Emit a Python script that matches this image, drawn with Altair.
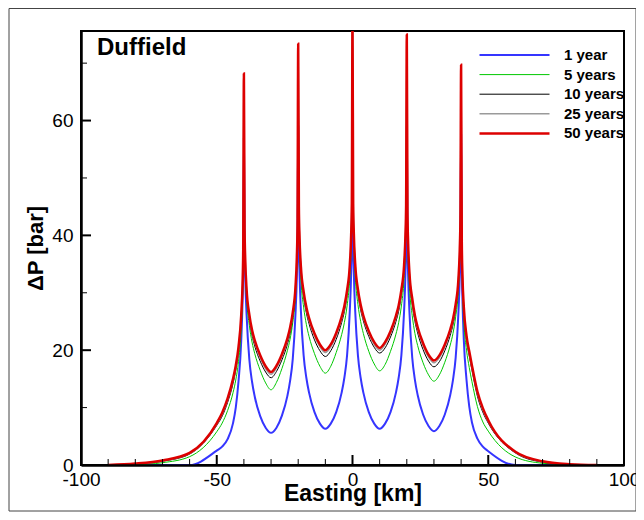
import altair as alt
import pandas as pd

# ---------------- data ----------------
SERIES = ["1 year", "5 years", "10 years", "25 years", "50 years"]
COLORS = ["#3535ff", "#00c800", "#000000", "#9a9a9a", "#dd0000"]
WIDTHS = [2.0, 1.0, 1.0, 1.5, 2.5]

EASTING = [-90, -80, -70, -60,
           -50, -48, -46, -44, -43, -42, -41, -40.5, -40.25,
           -40,
           -39.75, -39.5, -39, -38, -37, -36, -34, -32, -30, -28, -26, -24, -23, -22, -21, -20.5, -20.25,
           -20,
           -19.75, -19.5, -19, -18, -17, -16, -14, -12, -10, -8, -6, -4, -3, -2, -1, -0.5, -0.25,
           0,
           0.25, 0.5, 1, 2, 3, 4, 6, 8, 10, 12, 14, 16, 17, 18, 19, 19.5, 19.75,
           20,
           20.25, 20.5, 21, 22, 23, 24, 26, 28, 30, 32, 34, 36, 37, 38, 39, 39.5, 39.75,
           40,
           40.25, 40.5, 41, 42, 43, 44, 46, 48, 50,
           60, 70, 80, 90]

DP_1Y = [0.0, 0.0, 0.0, 0.0,
         2.5, 3.2, 4.5, 7.3, 10.0, 14.5, 21.5, 28.5, 34.5,
         57.0,
         38.6, 32.6, 26.1, 18.4, 14.5, 11.9, 8.5, 6.5, 5.6, 6.5, 8.6, 12.0, 14.6, 18.5, 26.3, 32.8, 38.9,
         59.0,
         39.3, 33.3, 26.8, 19.1, 15.2, 12.6, 9.2, 7.2, 6.3, 7.2, 9.2, 12.6, 15.2, 19.1, 26.8, 33.3, 39.3,
         60.0,
         39.3, 33.3, 26.8, 19.1, 15.2, 12.6, 9.2, 7.2, 6.3, 7.2, 9.2, 12.6, 15.2, 19.1, 26.8, 33.3, 39.3,
         59.0,
         38.9, 32.9, 26.4, 18.7, 14.8, 12.2, 8.8, 6.8, 5.9, 6.8, 8.8, 12.2, 14.8, 18.7, 26.4, 32.9, 38.9,
         57.5,
         34.8, 28.8, 21.8, 14.8, 10.2, 7.4, 4.6, 3.2, 2.4,
         0.0, 0.0, 0.0, 0.0]

DP_5Y = [0.0, 0.05, 0.4, 1.45,
         5.8, 7.3, 9.5, 12.6, 14.8, 18.0, 23.6, 29.3, 35.3,
         64.0,
         39.6, 34.1, 28.9, 24.3, 21.4, 19.4, 16.5, 14.3, 13.1, 14.4, 16.8, 19.9, 21.9, 24.8, 29.6, 34.8, 40.3,
         69.5,
         42.8, 37.4, 32.2, 27.5, 24.5, 22.4, 19.4, 17.2, 16.0, 17.2, 19.6, 22.7, 24.8, 27.7, 32.6, 37.9, 43.6,
         73.0,
         43.4, 38.0, 32.8, 28.0, 25.0, 22.9, 19.8, 17.6, 16.4, 17.5, 19.8, 22.8, 24.8, 27.7, 32.5, 37.8, 43.3,
         71.0,
         41.6, 36.0, 30.8, 26.0, 22.9, 20.8, 17.8, 15.7, 14.6, 15.7, 17.9, 20.9, 22.9, 25.8, 30.4, 35.6, 41.1,
         65.5,
         36.5, 30.5, 25.0, 20.0, 17.0, 14.5, 10.2, 7.5, 5.9,
         1.4, 0.3, 0.05, 0.0]

DP_10Y = [0.0, 0.15, 0.65, 1.9,
          6.9, 8.5, 10.9, 14.2, 16.5, 19.7, 25.2, 30.8, 36.8,
          66.5,
          40.5, 35.0, 29.8, 25.4, 22.6, 20.7, 18.1, 16.2, 15.2, 16.3, 18.3, 21.0, 22.9, 25.7, 30.3, 35.5, 41.1,
          71.8,
          44.3, 38.9, 33.8, 29.3, 26.5, 24.6, 21.8, 19.9, 18.9, 19.9, 21.9, 24.8, 26.7, 29.5, 34.0, 39.3, 44.8,
          75.5,
          44.9, 39.5, 34.3, 29.8, 27.0, 25.1, 22.4, 20.5, 19.5, 20.4, 22.3, 25.0, 26.8, 29.6, 34.0, 39.2, 44.6,
          73.2,
          43.3, 37.8, 32.5, 28.0, 25.0, 23.0, 20.1, 18.1, 17.1, 18.0, 19.9, 22.6, 24.4, 27.1, 31.5, 36.8, 42.3,
          68.0,
          38.3, 32.3, 26.7, 21.7, 19.0, 16.5, 12.0, 9.2, 7.3,
          2.1, 0.5, 0.1, 0.0]

DP_25Y = [0.0, 0.2, 0.75, 2.0,
          7.1, 8.8, 11.3, 14.7, 17.0, 20.2, 25.7, 31.2, 37.2,
          67.5,
          40.9, 35.4, 30.2, 25.9, 23.1, 21.3, 18.7, 16.8, 15.8, 16.9, 18.9, 21.6, 23.5, 26.2, 30.7, 35.9, 41.5,
          72.8,
          44.7, 39.3, 34.2, 29.8, 27.1, 25.2, 22.5, 20.6, 19.6, 20.6, 22.6, 25.4, 27.3, 30.0, 34.5, 39.7, 45.2,
          76.5,
          45.3, 39.9, 34.7, 30.2, 27.5, 25.6, 22.9, 21.0, 20.0, 21.0, 22.9, 25.6, 27.4, 30.1, 34.5, 39.7, 45.0,
          74.3,
          43.7, 38.2, 33.0, 28.6, 25.6, 23.6, 20.8, 18.8, 17.8, 18.7, 20.6, 23.2, 25.0, 27.6, 32.0, 37.2, 42.7,
          69.0,
          38.7, 32.7, 27.2, 22.2, 19.5, 17.0, 12.5, 9.6, 7.6,
          2.2, 0.6, 0.12, 0.0]

DP_50Y = [0.0, 0.25, 0.8, 2.1,
          7.3, 9.1, 11.6, 15.0, 17.3, 20.5, 26.0, 31.5, 37.5,
          68.2,
          41.2, 35.7, 30.5, 26.2, 23.5, 21.7, 19.1, 17.2, 16.2, 17.3, 19.3, 22.0, 23.9, 26.6, 31.0, 36.2, 41.8,
          73.4,
          45.0, 39.6, 34.5, 30.2, 27.5, 25.6, 22.9, 21.0, 20.0, 21.0, 23.0, 25.8, 27.7, 30.4, 34.8, 40.0, 45.5,
          77.5,
          45.6, 40.2, 35.0, 30.6, 27.9, 26.0, 23.3, 21.4, 20.4, 21.4, 23.3, 26.0, 27.8, 30.5, 34.8, 40.0, 45.3,
          75.0,
          44.0, 38.5, 33.3, 29.0, 26.0, 24.0, 21.2, 19.2, 18.2, 19.1, 21.0, 23.6, 25.4, 28.0, 32.3, 37.5, 43.0,
          69.7,
          39.0, 33.0, 27.5, 22.5, 19.8, 17.3, 12.8, 9.9, 7.8,
          2.3, 0.65, 0.15, 0.0]

X_LABELS = [-100, -50, 0, 50, 100]
X_MINOR = [-90, -80, -70, -60, -40, -30, -20, -10, 10, 20, 30, 40, 60, 70, 80, 90]
X_MAJOR = [-50, 0, 50]
Y_LABELS = [0, 20, 40, 60]
Y_MINOR = [10, 30, 50, 70]
Y_MAJOR = [20, 40, 60]
Y_MAX = 75.6
PANEL_TITLE = ["Duffield"]

# ---------------- table ----------------
rows = []
for name, vals in zip(SERIES, [DP_1Y, DP_5Y, DP_10Y, DP_25Y, DP_50Y]):
    for e, v in zip(EASTING, vals):
        rows.append({"easting": e, "dp": v, "series": name})
df = pd.DataFrame(rows)

W, H = 543, 434
FONT = "Liberation Sans"

xscale = alt.Scale(domain=[-100, 100], nice=False, zero=False)
yscale = alt.Scale(domain=[0, Y_MAX], nice=False, zero=False)

xaxis = alt.Axis(values=X_LABELS, title="Easting [km]", labelExpr="datum.value + ''",
                 ticks=False, grid=False, labelPadding=5, titlePadding=-7,
                 labelFlush=False, zindex=1, titleFontSize=23)
yaxis = alt.Axis(values=Y_LABELS, title="ΔP [bar]", ticks=False, grid=False,
                 labelPadding=8, titlePadding=4, zindex=1)

legend = alt.Legend(
    title=None, orient="none", legendX=397, legendY=16.5,
    symbolType="stroke", symbolSize=4900, clipHeight=15,
    labelFont=FONT, labelFontSize=15,
    labelFontWeight="bold", labelColor="black", labelOffset=13, rowPadding=3.6,
    padding=0,
)

lines = alt.Chart(df).mark_line(clip=True, interpolate="monotone").encode(
    x=alt.X("easting:Q", scale=xscale, axis=xaxis, title="Easting [km]"),
    y=alt.Y("dp:Q", scale=yscale, axis=yaxis, title="ΔP [bar]"),
    color=alt.Color("series:N", sort=SERIES,
                    scale=alt.Scale(type="ordinal", domain=SERIES, range=COLORS), legend=legend),
    strokeWidth=alt.StrokeWidth("series:N", sort=SERIES,
                                scale=alt.Scale(type="ordinal", domain=SERIES, range=WIDTHS), legend=legend),
)

xt_major = alt.Chart(pd.DataFrame({"easting": X_MAJOR})).mark_rule(color="black", strokeWidth=2).encode(
    x=alt.X("easting:Q", scale=xscale, axis=xaxis, title="Easting [km]"),
    y=alt.value(H), y2=alt.value(H - 10))
xt_minor = alt.Chart(pd.DataFrame({"easting": X_MINOR})).mark_rule(color="black", strokeWidth=1).encode(
    x=alt.X("easting:Q", scale=xscale, axis=xaxis, title="Easting [km]"),
    y=alt.value(H), y2=alt.value(H - 6))
yt_major = alt.Chart(pd.DataFrame({"dp": Y_MAJOR})).mark_rule(color="black", strokeWidth=2).encode(
    y=alt.Y("dp:Q", scale=yscale, axis=yaxis, title="ΔP [bar]"),
    x=alt.value(0), x2=alt.value(10))
yt_minor = alt.Chart(pd.DataFrame({"dp": Y_MINOR})).mark_rule(color="black", strokeWidth=1).encode(
    y=alt.Y("dp:Q", scale=yscale, axis=yaxis, title="ΔP [bar]"),
    x=alt.value(0), x2=alt.value(6))

label = alt.Chart(pd.DataFrame({"t": PANEL_TITLE})).mark_text(
    font=FONT, fontSize=24, fontWeight="bold", color="black", align="left", baseline="alphabetic"
).encode(text="t:N", x=alt.value(16), y=alt.value(24))

frame = alt.Chart(pd.DataFrame({"a": [0]})).mark_rect(
    filled=False, stroke="#444444", strokeWidth=1
).encode(x=alt.value(-72), x2=alt.value(555), y=alt.value(-22.5), y2=alt.value(480))

chart = alt.layer(lines, xt_major, xt_minor, yt_major, yt_minor, label, frame).properties(
    width=W, height=H, autosize="none",
    padding={"left": 73, "top": 23, "right": 12, "bottom": 47},
).configure_view(
    stroke="black", strokeWidth=2
).configure_axis(
    labelFont=FONT, labelFontSize=19, labelColor="black",
    titleFont=FONT, titleFontSize=22, titleFontWeight="bold", titleColor="black",
    domainColor="black", domainWidth=2.5,
)

chart.save("out.html", embed_options={"renderer": "svg", "actions": False})
